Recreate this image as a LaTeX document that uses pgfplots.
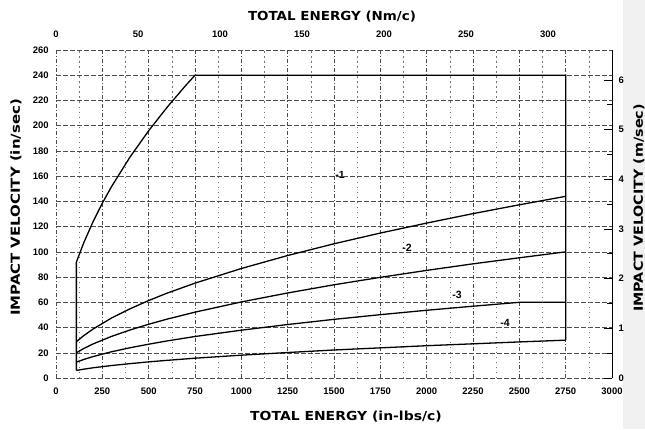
\documentclass[border=0pt]{standalone}
\usepackage{graphicx}
\usepackage{pgfplots}
\pgfplotsset{compat=1.18}
\usepackage{fontspec}
\setmainfont{Liberation Sans}
\newfontfamily\titlefont{DejaVu Sans}
\begin{document}
\begin{tikzpicture}[x=1bp,y=1bp]
\path[use as bounding box] (0,0) rectangle (645,429);
\fill[black!6] (623,0) rectangle (645,429);
\pgfplotsset{
  base/.style={scale only axis, width=556bp, height=328bp,
    at={(56bp,51bp)}, anchor=south west,
    ticklabel style={font=\bfseries\fontsize{9.5}{10}\selectfont},
    /pgf/number format/assume math mode=true,
    /pgf/number format/1000 sep={},
    major tick length=0pt, minor tick length=0pt},
}
% horizontal grid + left labels
\begin{axis}[base, xmin=0, xmax=3000, ymin=0, ymax=260,
  ytick={0,20,...,260}, xtick=\empty,
  ymajorgrids,
  major grid style={black!70, line width=0.5bp, dash pattern=on 4.5bp off 2.5bp},
  axis line style={draw=none},
  yticklabel style={xshift=-3.8bp}]
\end{axis}
% main data axis with vertical grid and bottom labels
\begin{axis}[base, xmin=0, xmax=3000, ymin=0, ymax=260,
  xtick={0,250,...,3000}, minor x tick num=1, ytick=\empty,
  xmajorgrids, xminorgrids,
  major grid style={black!70, line width=0.5bp, dash pattern=on 4bp off 2bp on 1bp off 2bp},
  minor grid style={black!55, line width=0.5bp, dash pattern=on 1.5bp off 3.5bp},
  axis line style={draw=none},
  xticklabel style={yshift=-6.4bp}]
% curve 1 envelope
\addplot[black, line width=1.3bp] coordinates {
 (110,6) (110,91.9) (150,107.3) (200,123.9) (250,138.6) (300,151.8)
 (400,175.3) (500,196.0) (600,214.7) (700,231.9) (750,240)
 (2750,240) (2750,30)};
% curve 2
\addplot[black, line width=1.3bp] coordinates {
 (110,28.8) (150,33.6) (200,38.8) (300,47.6) (400,54.9) (500,61.4)
 (600,67.3) (750,75.2) (1000,86.8) (1250,97.1) (1500,106.4)
 (1750,114.9) (2000,122.8) (2250,130.3) (2500,137.3) (2750,144)};
% curve 3
\addplot[black, line width=1.3bp] coordinates {
 (110,20) (150,23.4) (200,27.0) (300,33.0) (400,38.1) (500,42.6)
 (600,46.7) (750,52.2) (1000,60.3) (1250,67.4) (1500,73.9)
 (1750,79.8) (2000,85.3) (2250,90.5) (2500,95.3) (2750,100)};
% curve 4
\addplot[black, line width=1.3bp] coordinates {
 (110,12.6) (150,14.7) (200,17.0) (300,20.8) (400,24.0) (500,26.8)
 (600,29.4) (750,32.9) (1000,37.9) (1250,42.4) (1500,46.5)
 (1750,50.2) (2000,53.7) (2250,56.9) (2500,60) (2750,60)};
% curve 5
\addplot[black, line width=1.3bp] coordinates {
 (110,6) (150,7.0) (200,8.1) (300,9.9) (400,11.4) (500,12.8)
 (600,14.0) (750,15.7) (1000,18.1) (1250,20.2) (1500,22.2)
 (1750,23.9) (2000,25.6) (2250,27.1) (2500,28.6) (2750,30)};
\node[font=\bfseries\fontsize{10.5}{11}\selectfont] at (axis cs:1532,161) {-1};
\node[font=\bfseries\fontsize{10.5}{11}\selectfont] at (axis cs:1894,103) {-2};
\node[font=\bfseries\fontsize{10.5}{11}\selectfont] at (axis cs:2164,66) {-3};
\node[font=\bfseries\fontsize{10.5}{11}\selectfont] at (axis cs:2423,44) {-4};
\end{axis}
% top axis (Nm/c)
\begin{axis}[base, xmin=0, xmax=338.96, ymin=0, ymax=1,
  axis x line*=top, axis y line=none,
  xtick={0,50,...,300},
  axis line style={draw=none},
  xticklabel style={yshift=8.4bp}]
\end{axis}
% right axis (m/sec)
\begin{axis}[base, xmin=0, xmax=1, ymin=0, ymax=6.604,
  axis y line*=right, axis x line=none,
  ytick={0,1,...,6}, minor y tick num=1,
  tick align=inside,
  major tick length=8bp, minor tick length=5bp,
  axis line style={-, black, line width=0.9bp},
  tick style={black, line width=0.9bp},
  yticklabel style={xshift=3bp}]
\end{axis}
\node[font=\titlefont\bfseries\fontsize{12.5}{13}\selectfont] at (332,412) {\scalebox{1.08}[1]{TOTAL ENERGY (Nm/c)}};
\node[font=\titlefont\bfseries\fontsize{12.5}{13}\selectfont] at (346,12) {\scalebox{1.12}[1]{TOTAL ENERGY (in-lbs/c)}};
\node[rotate=90, font=\titlefont\bfseries\fontsize{12.5}{13}\selectfont] at (16,221.5) {\scalebox{1.2}[1]{IMPACT VELOCITY (in/sec)}};
\node[rotate=90, font=\titlefont\bfseries\fontsize{12.5}{13}\selectfont] at (639,221) {\scalebox{1.15}[1]{IMPACT VELOCITY (m/sec)}};
\end{tikzpicture}
\end{document}
